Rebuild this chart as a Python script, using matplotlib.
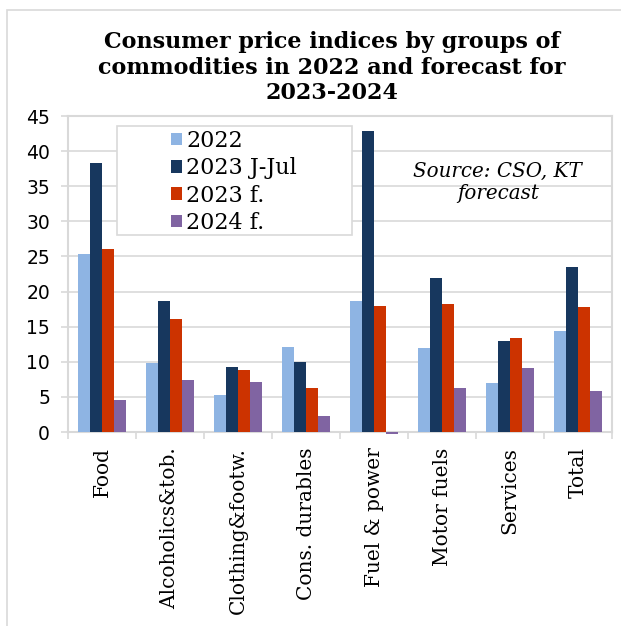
import matplotlib.pyplot as plt
import numpy as np
from matplotlib.patches import Rectangle

categories = ["Food", "Alcoholics&tob.", "Clothing&footw.", "Cons. durables",
              "Fuel & power", "Motor fuels", "Services", "Total"]
series_names = ["2022", "2023 J-Jul", "2023 f.", "2024 f."]
v2022 = [25.4, 9.8, 5.3, 12.1, 18.6, 11.9, 7.0, 14.4]
v2023_jul = [38.3, 18.7, 9.2, 10.0, 42.8, 22.0, 13.0, 23.5]
v2023_f = [26.1, 16.1, 8.8, 6.2, 17.9, 18.2, 13.4, 17.8]
v2024_f = [4.5, 7.4, 7.1, 2.3, -0.3, 6.3, 9.1, 5.9]
colors = ["#8EB4E3", "#17375E", "#CC3300", "#8064A2"]

grey = "#D9D9D9"
serif = "DejaVu Serif"

fig = plt.figure(figsize=(6.21, 6.26), dpi=100)
ax = fig.add_axes([68 / 621, 1 - 432 / 626, 544 / 621, 316 / 626])

x = np.arange(len(categories))
w = 0.18
for i, vals in enumerate([v2022, v2023_jul, v2023_f, v2024_f]):
    # clip_on off so the small negative bar shows under the axis line
    ax.bar(x + (i - 1.5) * w, vals, w, color=colors[i], label=series_names[i],
           zorder=3, clip_on=False)

ax.set_xlim(-0.5, len(categories) - 0.5)
ax.set_ylim(0, 45)
ax.set_yticks(np.arange(0, 46, 5))
ax.yaxis.grid(True, color=grey, lw=1.2, zorder=0)
ax.set_axisbelow(True)

ax.set_xticks(x)
ax.set_xticklabels(categories, rotation=90, family=serif, fontsize=14.5)
ax.set_xticks(np.arange(-0.5, len(categories), 1), minor=True)
ax.tick_params(axis="x", which="major", length=0, pad=11)
ax.tick_params(axis="x", which="minor", length=5, color=grey, width=1.2)
ax.tick_params(axis="y", length=5, color=grey, width=1.2, pad=8,
               labelsize=13.5)
for s in ax.spines.values():
    s.set_color(grey)
    s.set_linewidth(1.5)

# legend frame drawn separately so the handles can sit well inside it
box = Rectangle((0.09, 0.623), 0.432, 0.345, transform=ax.transAxes,
                facecolor="white", edgecolor=grey, lw=1.2, zorder=2)
ax.add_patch(box)
ax.legend(loc="upper left", bbox_to_anchor=(0.16, 1.005), frameon=False,
          prop={"family": serif, "size": 16}, handlelength=0.5,
          handleheight=0.5, handletextpad=0.2, labelspacing=0.24,
          borderpad=0.2)

ax.text(0.79, 0.79, "Source: CSO, KT\nforecast", transform=ax.transAxes,
        ha="center", va="center", style="italic", family=serif,
        fontsize=14.3, linespacing=1.2)

fig.text(0.535, 0.892, "Consumer price indices by groups of\n"
         "commodities in 2022 and forecast for\n2023-2024",
         ha="center", va="center", family=serif, weight="bold", fontsize=16,
         linespacing=1.2)

fig.patches.append(Rectangle((7 / 621, -0.1), 1.2, 1 - 10 / 626 + 0.1,
                             transform=fig.transFigure, fill=False,
                             edgecolor=grey, lw=1.2))

fig.savefig("out.png", dpi=100)
